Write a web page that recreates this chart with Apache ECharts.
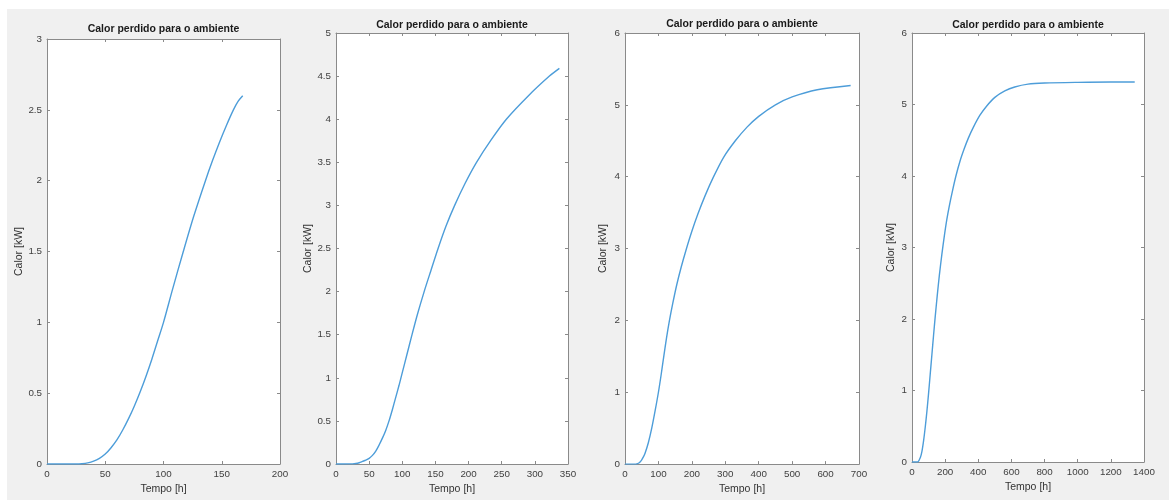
<!DOCTYPE html>
<html><head><meta charset="utf-8">
<script src="https://cdn.jsdelivr.net/npm/echarts@6/dist/echarts.min.js"></script>
<style>html,body{margin:0;padding:0;background:#fff}#c{width:1169px;height:500px}</style>
</head><body><div id="c"></div>
<script>
const titleText = 'Calor perdido para o ambiente';
const xName = 'Tempo [h]';
const yName = 'Calor [kW]';

// Panel 1
const t1 = [0, 25, 30, 35, 40, 45, 50, 55, 60, 65, 70, 75, 80, 85, 90, 95, 100, 108, 117, 126, 136, 142, 148, 154, 160, 164, 168];
const q1 = [0, 0, 0.002, 0.008, 0.02, 0.04, 0.07, 0.115, 0.17, 0.24, 0.32, 0.41, 0.51, 0.62, 0.74, 0.87, 1.0, 1.24, 1.5, 1.75, 2.0, 2.14, 2.27, 2.39, 2.5, 2.56, 2.6];
// Panel 2
const t2 = [0, 25, 30, 35, 40, 45, 50, 55, 60, 65, 70, 75, 80, 85, 90, 95, 100, 107, 114, 123, 133, 143, 154, 166, 179, 195, 212, 234, 257, 290, 322, 337];
const q2 = [0, 0.002, 0.006, 0.015, 0.03, 0.045, 0.066, 0.1, 0.15, 0.22, 0.3, 0.39, 0.5, 0.63, 0.77, 0.91, 1.06, 1.27, 1.48, 1.74, 2.0, 2.24, 2.5, 2.76, 3.0, 3.26, 3.5, 3.76, 4.0, 4.27, 4.5, 4.59];
// Panel 3
const t3 = [0, 30, 35, 40, 45, 50, 55, 60, 70, 80, 90, 100, 108, 116, 124, 133, 143, 155, 168, 182, 200, 218, 240, 264, 295, 330, 365, 400, 450, 500, 575, 675];
const q3 = [0, 0, 0.003, 0.012, 0.03, 0.06, 0.1, 0.15, 0.3, 0.5, 0.74, 1.0, 1.24, 1.5, 1.75, 2.0, 2.24, 2.5, 2.74, 2.97, 3.24, 3.48, 3.74, 3.99, 4.27, 4.5, 4.69, 4.84, 5.0, 5.11, 5.21, 5.27];
// Panel 4
const t4 = [0, 20, 36, 50, 60, 70, 80, 90, 100, 110, 120, 130, 140, 152, 165, 180, 195, 210, 225, 245, 265, 290, 315, 340, 370, 410, 451, 500, 560, 620, 700, 800, 1000, 1200, 1344];
const q4 = [0, 0, 0.003, 0.06, 0.15, 0.3, 0.49, 0.71, 0.96, 1.23, 1.5, 1.77, 2.03, 2.32, 2.61, 2.9, 3.16, 3.39, 3.58, 3.8, 4.0, 4.21, 4.38, 4.53, 4.68, 4.85, 4.98, 5.1, 5.19, 5.245, 5.285, 5.3, 5.31, 5.315, 5.315];

const xMax = [200, 350, 700, 1400];
const xStep = [50, 50, 100, 200];
const yMax = [3, 5, 6, 6];
const yStep = [0.5, 0.5, 1, 1];

const T = [t1, t2, t3, t4];
const Q = [q1, q2, q3, q4];

const grids = [
  {left: 47, top: 39, width: 233, height: 430},
  {left: 336, top: 33, width: 232, height: 431},
  {left: 625, top: 33, width: 234, height: 433},
  {left: 912, top: 33, width: 232, height: 429}
];
const titleY = [29, 25, 24.5, 25];
const xGap = [20, 18, 18, 19];
const yGap = [22, 22, 16, 15];

const FONT = '"Liberation Sans", Arial, Helvetica, sans-serif';
const boxColor = '#8a8a8a';
const labelColor = '#404040';

const xAxes = [], yAxes = [], series = [], graphics = [];
graphics.push({type: 'rect', shape: {x: 7, y: 9, width: 1162, height: 491}, style: {fill: '#f0f0f0'}, z: -10});

grids.forEach((g, i) => {
  const common = {
    gridIndex: i, type: 'value', min: 0,
    axisLine: {show: true, onZero: false, lineStyle: {color: boxColor, width: 1}},
    axisTick: {show: true, inside: true, length: 3, lineStyle: {color: boxColor}},
    splitLine: {show: false}
  };
  xAxes.push(Object.assign({}, common, {
    position: 'bottom', max: xMax[i], interval: xStep[i],
    name: xName, nameLocation: 'middle', nameGap: xGap[i],
    nameTextStyle: {fontFamily: FONT, fontSize: 10.5, color: '#333'},
    axisLabel: {fontFamily: FONT, fontSize: 9.8, color: labelColor, margin: 5, formatter: v => String(v)}
  }));
  xAxes.push(Object.assign({}, common, {
    position: 'top', max: xMax[i], interval: xStep[i], axisLabel: {show: false}
  }));
  yAxes.push(Object.assign({}, common, {
    position: 'left', max: yMax[i], interval: yStep[i],
    name: yName, nameLocation: 'middle', nameGap: yGap[i],
    nameTextStyle: {fontFamily: FONT, fontSize: 10.5, color: '#333'},
    axisLabel: {fontFamily: FONT, fontSize: 9.8, color: labelColor, margin: 5, formatter: v => String(v)}
  }));
  yAxes.push(Object.assign({}, common, {
    position: 'right', max: yMax[i], interval: yStep[i], axisLabel: {show: false}
  }));
  series.push({
    type: 'line', xAxisIndex: 2 * i, yAxisIndex: 2 * i, symbol: 'none',
    smooth: 0.3,
    lineStyle: {color: '#4d9dd9', width: 1.4},
    data: T[i].map((t, k) => [t, Q[i][k]])
  });
  graphics.push({
    type: 'text', x: g.left + g.width / 2, y: titleY[i],
    style: {text: titleText, fontFamily: FONT, fontWeight: 'bold', fontSize: 10.5, fill: '#1a1a1a', align: 'center', verticalAlign: 'middle'}
  });
});

const chart = echarts.init(document.getElementById('c'), null, {renderer: 'canvas'});
chart.setOption({
  animation: false,
  backgroundColor: '#ffffff',
  grid: grids.map(g => Object.assign({show: true, backgroundColor: '#ffffff', borderWidth: 0}, g)),
  xAxis: xAxes,
  yAxis: yAxes,
  series: series,
  graphic: graphics
});
</script>
</body></html>
